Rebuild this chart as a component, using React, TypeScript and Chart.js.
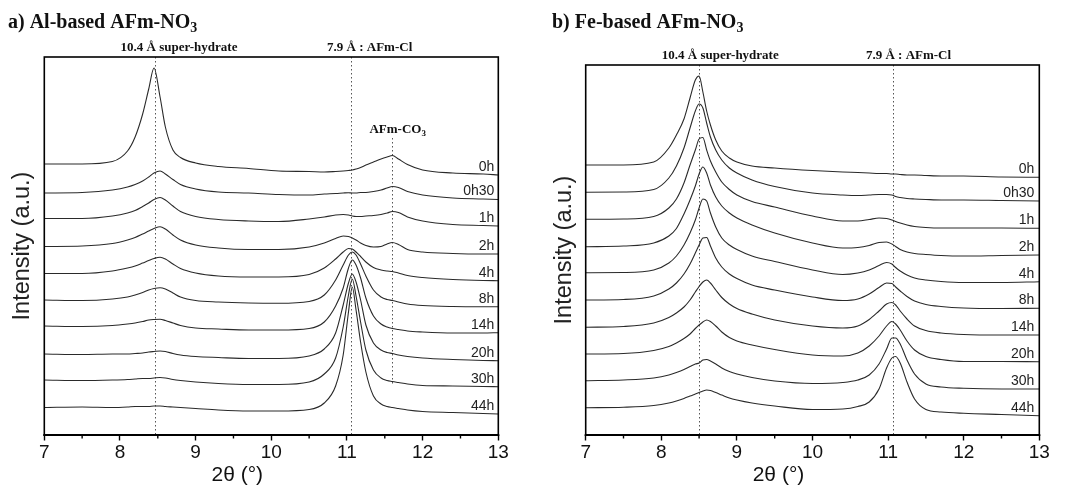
import React, { useEffect, useRef } from 'react';
import { Chart, registerables } from 'chart.js';

Chart.register(...registerables);

// ---------- shared ----------
const SAMPLE_LABELS = ['0h', '0h30', '1h', '2h', '4h', '8h', '14h', '20h', '30h', '44h'];
const MINOR_TICKS = [7.5, 8.5, 9.5, 10.5, 11.5, 12.5];

// ---------- a) Al-based AFm-NO3 ----------
const AL_TWO_THETA = [7.0, 7.5, 7.9, 8.1, 8.2, 8.3, 8.38, 8.45, 8.53, 8.6, 8.7, 8.8, 9.0, 9.3, 9.7, 10.1, 10.5, 10.7, 10.85, 10.95, 11.02, 11.07, 11.12, 11.18, 11.25, 11.35, 11.45, 11.53, 11.6, 11.68, 11.8, 12.0, 12.4, 12.8, 13.0];
const AL_0H = [271, 271, 273.5, 284, 298, 321, 346, 367, 338, 308, 285, 277.5, 272, 268.5, 266.5, 264, 263.5, 263, 263.5, 264, 264.5, 265, 266, 267.5, 270, 273, 276, 278, 279.5, 276, 270.5, 265, 262, 261, 260];
const AL_0H30 = [242, 242.5, 245, 248, 250.5, 254, 258, 262, 264, 261, 255.5, 250.5, 246, 243, 242, 240.5, 240, 241, 241.5, 242, 242.3, 242, 242, 242.5, 242.5, 243.5, 245, 247, 248.5, 247.5, 243.5, 240, 237, 236, 235.5];
const AL_1H = [216.5, 216.5, 219, 222, 224.5, 228.5, 232, 235.5, 237.5, 235, 229, 223.5, 218.5, 215.5, 214, 213.5, 216, 218, 220, 220.5, 220, 219, 218.5, 218.5, 219, 219.5, 220.5, 222, 223.5, 222.5, 218, 214, 210.5, 209.5, 209];
const AL_2H = [188.5, 189, 191.5, 195, 197.5, 201, 204, 206.5, 208.3, 206, 200, 195, 190, 187, 185.5, 185.5, 188, 192, 196.5, 199, 198.5, 197, 195, 192, 189.5, 188, 188.5, 191, 192.5, 190.5, 185.5, 183, 181.5, 181, 181];
const AL_4H = [161.5, 161.5, 164, 167, 169, 172, 174.5, 176.5, 177.7, 176, 171, 166.5, 162, 159, 158, 158, 160.5, 167, 176, 183, 186.5, 186, 183, 178.5, 173, 167.5, 165, 164, 163.5, 162, 159.5, 157.5, 155.5, 154.5, 154.3];
const AL_8H = [135, 134.5, 136, 138, 140, 142.5, 145, 146.5, 147.3, 146, 142, 138, 134.5, 133, 132, 131.7, 133.5, 140, 155, 170, 180, 183, 180, 171, 159, 145, 138, 135.5, 134.5, 133, 131, 129.5, 128.5, 128.3, 128.3];
const AL_14H = [109, 108.5, 109.5, 111, 112, 113.5, 115, 115.5, 115.7, 114.5, 112, 109.5, 107, 106, 105, 105, 106.5, 113, 129, 147, 167, 175, 170, 157, 137, 119, 111, 108, 106.5, 105.5, 104, 103, 102, 102, 102.3];
const AL_20H = [81, 80.5, 81, 81, 81.5, 82, 83, 83.5, 84, 83.5, 81.5, 80, 78.5, 77.5, 76.5, 76.5, 79, 86, 102, 130, 152, 161, 153, 135, 110, 92, 85, 82.5, 81.5, 80, 78.5, 77, 75.5, 74.5, 74.3];
const AL_30H = [55, 54.5, 55, 55.5, 56, 56.5, 56.5, 57, 57.5, 57, 55.5, 54.5, 53, 51.5, 50.5, 50.5, 53, 61, 77, 108, 140, 156, 139, 113, 85, 65, 57, 54.5, 53.5, 52.5, 51, 49.5, 49, 48.5, 48.3];
const AL_44H = [27.5, 28, 27.5, 28, 28.5, 28.5, 28.5, 29, 29, 28.5, 28, 27.5, 26.5, 25, 24, 24, 25.5, 32, 49, 80, 123, 148, 125, 93, 63, 39, 31, 28.5, 27.5, 26.5, 25, 23.5, 22.5, 21.5, 21];

// ---------- b) Fe-based AFm-NO3 ----------
const FE_TWO_THETA = [7.0, 7.5, 7.9, 8.1, 8.2, 8.3, 8.38, 8.45, 8.5, 8.55, 8.6, 8.65, 8.72, 8.8, 8.9, 9.0, 9.2, 9.5, 10.0, 10.4, 10.6, 10.75, 10.88, 10.98, 11.05, 11.1, 11.16, 11.25, 11.35, 11.5, 11.7, 12.0, 12.5, 13.0];
const FE_0H = [270, 270, 273, 287, 300, 316, 337, 355, 359, 343, 324, 310, 295, 284, 277, 273, 269, 267, 264.5, 263, 262.5, 262, 261.5, 261.5, 261, 261, 260.5, 260, 260, 259.5, 259, 259, 258, 257.7];
const FE_0H30 = [242.7, 243, 245.5, 257, 269, 287, 307, 324, 331, 327, 312, 298, 285, 275, 267, 262, 255, 248.5, 242, 240, 239.5, 240, 240.5, 240.5, 240, 238.5, 237.5, 236.5, 236, 235.5, 235, 235, 234.5, 234];
const FE_1H = [215.7, 216, 218.5, 227, 236, 252, 270, 285, 296, 297.5, 285, 274, 263, 253, 245.5, 240, 233.5, 228, 219, 214, 214, 215.5, 217, 216.5, 215, 213.5, 212, 210, 208.5, 207.5, 207, 207, 207, 206.7];
const FE_2H = [188.3, 189, 192, 199, 206.5, 221, 235, 249, 261, 268, 262, 250, 238, 229, 222, 217, 210, 202, 192, 187, 187.5, 189.5, 192.5, 193, 191, 188.5, 185.5, 183, 181.5, 180.5, 179.5, 179, 179.5, 180];
const FE_4H = [162.3, 162.5, 165, 172, 179, 190, 202, 215, 227, 236, 234, 222, 208, 197, 190, 185.5, 179, 173.5, 165, 160.5, 162, 165, 169.5, 172.5, 171, 167.5, 164, 160, 157, 155, 153.5, 152.5, 152.5, 153.3];
const FE_8H = [135, 135.5, 139, 146, 152, 161, 171, 182, 190, 197, 197.5, 189, 177, 168, 161, 156.5, 150, 145, 138, 134.5, 136, 141, 147.5, 152, 151.5, 148, 144, 138.5, 134, 130.5, 128.5, 127, 126.5, 126.7];
const FE_14H = [107.7, 108.5, 112, 117.5, 122, 128, 135, 143, 148.5, 153, 155, 152, 145, 137.5, 131, 126.5, 121, 115, 109, 107, 109, 115.5, 124, 131, 132.5, 130, 124, 116, 109, 104.5, 102, 100.5, 100, 100];
const FE_20H = [81, 81.5, 84.5, 88.5, 92, 96.5, 101, 106.5, 110, 113, 115, 113.5, 109, 103, 97.5, 94, 90, 85.5, 80, 79, 82, 89, 99, 109, 113.5, 111, 105, 94, 85, 78.5, 75.5, 73.5, 73.5, 73.3];
const FE_30H = [54.3, 55, 57, 60, 62.5, 65.5, 68.5, 71, 72, 75, 75.5, 74, 71, 67, 63.5, 61, 57.5, 54, 51.5, 52.5, 55, 60, 71, 86, 97, 97, 91, 75, 61, 51, 48, 46.7, 46, 46];
const FE_44H = [27.3, 27.8, 29.5, 32, 34, 36.5, 39, 41, 42.5, 44, 45, 44.5, 42.5, 40, 37, 35, 32, 29, 25.5, 26, 28.5, 33, 46, 67, 77, 78.5, 72, 53, 36, 25.5, 23, 21.7, 20.5, 19.3];

// ---------- styling / layout ----------
const SANS = "'Liberation Sans', Arial, sans-serif";
const SERIF = "'Liberation Serif', 'Times New Roman', serif";
const CANVAS_W = 535;
const CANVAS_H = 493;

type Part = { t: string; sub?: boolean };
type RefLine = { x: number; from?: number; to?: number };
type RefLabel = { parts: Part[]; x: number; y?: number };

type PanelDef = {
  left: number;
  padding: { top: number; right: number; left: number };
  yAxisWidth: number;
  yMax: number;
  twoTheta: number[];
  series: number[][];
  title: Part[];
  titleX: number;
  refLines: RefLine[];
  refLabels: RefLabel[];
  labelInset: number;
};

const PANELS: PanelDef[] = [
  {
    left: 0,
    padding: { top: 57, right: CANVAS_W - 498.3, left: 0 },
    yAxisWidth: 44.3,
    yMax: 378,
    twoTheta: AL_TWO_THETA,
    series: [AL_0H, AL_0H30, AL_1H, AL_2H, AL_4H, AL_8H, AL_14H, AL_20H, AL_30H, AL_44H],
    title: [{ t: 'a) Al-based AFm-NO' }, { t: '3', sub: true }],
    titleX: 8,
    refLines: [{ x: 8.46 }, { x: 11.05 }, { x: 11.6, from: 50, to: 297 }],
    refLabels: [
      { parts: [{ t: '10.4 Å super-hydrate' }], x: 8.78 },
      { parts: [{ t: '7.9 Å : AFm-Cl' }], x: 11.3 },
      { parts: [{ t: 'AFm-CO' }, { t: '3', sub: true }], x: 11.67, y: 302 },
    ],
    labelInset: 4,
  },
  {
    left: CANVAS_W,
    padding: { top: 65, right: CANVAS_W - (1039.3 - CANVAS_W), left: 7 },
    yAxisWidth: 43.7,
    yMax: 370,
    twoTheta: FE_TWO_THETA,
    series: [FE_0H, FE_0H30, FE_1H, FE_2H, FE_4H, FE_8H, FE_14H, FE_20H, FE_30H, FE_44H],
    title: [{ t: 'b) Fe-based AFm-NO' }, { t: '3', sub: true }],
    titleX: 552 - CANVAS_W,
    refLines: [{ x: 8.5 }, { x: 11.07 }],
    refLabels: [
      { parts: [{ t: '10.4 Å super-hydrate' }], x: 8.78 },
      { parts: [{ t: '7.9 Å : AFm-Cl' }], x: 11.27 },
    ],
    labelInset: 5,
  },
];

function drawParts(
  ctx: CanvasRenderingContext2D,
  parts: Part[],
  x: number,
  baseline: number,
  size: number,
  align: 'left' | 'center'
) {
  const subSize = Math.round(size * 0.68);
  const widths = parts.map((p) => {
    ctx.font = `bold ${p.sub ? subSize : size}px ${SERIF}`;
    return ctx.measureText(p.t).width;
  });
  const total = widths.reduce((a, b) => a + b, 0);
  let cx = align === 'center' ? x - total / 2 : x;
  ctx.textAlign = 'left';
  ctx.textBaseline = 'alphabetic';
  parts.forEach((p, i) => {
    ctx.font = `bold ${p.sub ? subSize : size}px ${SERIF}`;
    ctx.fillText(p.t, cx, baseline + (p.sub ? size * 0.2 : 0));
    cx += widths[i];
  });
}

function makeOverlay(panel: PanelDef) {
  return {
    id: 'overlay',
    beforeDatasetsDraw(chart: any) {
      const { ctx, chartArea: a, scales } = chart;
      const xs = scales.x;
      const ys = scales.y;
      ctx.save();
      ctx.strokeStyle = '#555';
      ctx.lineWidth = 1;
      ctx.setLineDash([1.5, 2.5]);
      for (const r of panel.refLines) {
        const px = Math.round(xs.getPixelForValue(r.x)) + 0.5;
        const y0 = r.to !== undefined ? ys.getPixelForValue(r.to) : a.top;
        const y1 = r.from !== undefined ? ys.getPixelForValue(r.from) : a.bottom;
        ctx.beginPath();
        ctx.moveTo(px, y0);
        ctx.lineTo(px, y1);
        ctx.stroke();
      }
      ctx.restore();
    },
    afterDraw(chart: any) {
      const { ctx, chartArea: a, scales } = chart;
      const xs = scales.x;
      const ys = scales.y;
      ctx.save();
      ctx.setLineDash([]);
      // frame
      ctx.strokeStyle = '#000';
      ctx.lineWidth = 1.6;
      ctx.strokeRect(a.left, a.top, a.right - a.left, a.bottom - a.top);
      ctx.lineWidth = 2;
      ctx.beginPath();
      ctx.moveTo(a.left - 1, a.bottom);
      ctx.lineTo(a.right + 1, a.bottom);
      ctx.stroke();
      // minor ticks
      ctx.lineWidth = 1.4;
      for (const v of MINOR_TICKS) {
        const px = xs.getPixelForValue(v);
        ctx.beginPath();
        ctx.moveTo(px, a.bottom);
        ctx.lineTo(px, a.bottom + 3.5);
        ctx.stroke();
      }
      // reference labels
      ctx.fillStyle = '#111';
      for (const l of panel.refLabels) {
        const px = xs.getPixelForValue(l.x);
        const base = l.y !== undefined ? ys.getPixelForValue(l.y) : a.top - 6;
        drawParts(ctx, l.parts, px, base, 13, 'center');
      }
      // sample labels at curve ends
      ctx.font = `14px ${SANS}`;
      ctx.fillStyle = '#222';
      ctx.textAlign = 'right';
      ctx.textBaseline = 'middle';
      panel.series.forEach((vals, i) => {
        const yy = ys.getPixelForValue(vals[vals.length - 1]) - 8;
        ctx.fillText(SAMPLE_LABELS[i], a.right - panel.labelInset, yy);
      });
      // x axis title
      ctx.font = `21px ${SANS}`;
      ctx.fillStyle = '#111';
      ctx.textAlign = 'center';
      ctx.textBaseline = 'middle';
      ctx.fillText('2θ (°)', xs.getPixelForValue(9.55), a.bottom + 40);
      // panel title
      ctx.fillStyle = '#111';
      drawParts(ctx, panel.title, panel.titleX, 27.5, 20, 'left');
      ctx.restore();
    },
  };
}

function Panel({ panel }: { panel: PanelDef }) {
  const ref = useRef<HTMLCanvasElement>(null);
  useEffect(() => {
    const canvas = ref.current;
    if (!canvas) return;
    const chart = new Chart(canvas, {
      type: 'line',
      data: {
        datasets: panel.series.map((vals, i) => ({
          label: SAMPLE_LABELS[i],
          data: panel.twoTheta.map((x, j) => ({ x, y: vals[j] })),
          borderColor: '#2a2a2a',
          borderWidth: 1.1,
          pointRadius: 0,
          fill: false,
          cubicInterpolationMode: 'monotone' as const,
        })),
      },
      options: {
        responsive: false,
        animation: false,
        devicePixelRatio: 1,
        layout: { padding: { top: panel.padding.top, right: panel.padding.right, left: panel.padding.left, bottom: 0 } },
        plugins: { legend: { display: false }, tooltip: { enabled: false } },
        scales: {
          x: {
            type: 'linear',
            min: 7,
            max: 13,
            afterFit: (s: any) => {
              s.height = 58;
            },
            ticks: {
              stepSize: 1,
              autoSkip: false,
              maxRotation: 0,
              padding: 1,
              color: '#111',
              font: { family: SANS, size: 19 },
            },
            grid: {
              display: true,
              drawOnChartArea: false,
              drawTicks: true,
              tickLength: 5.5,
              tickWidth: 1.4,
              tickColor: '#000',
            },
            border: { display: false },
          },
          y: {
            type: 'linear',
            min: 0,
            max: panel.yMax,
            afterFit: (s: any) => {
              s.width = panel.yAxisWidth;
            },
            ticks: { display: false },
            grid: { display: false, drawTicks: false },
            border: { display: false },
            title: {
              display: true,
              text: 'Intensity (a.u.)',
              color: '#222',
              font: { family: SANS, size: 23.5 },
              padding: { top: 8, bottom: 0 },
            },
          },
        },
      },
      plugins: [makeOverlay(panel)],
    } as any);
    return () => chart.destroy();
  }, [panel]);
  return (
    <canvas
      ref={ref}
      width={CANVAS_W}
      height={CANVAS_H}
      style={{ position: 'absolute', left: panel.left, top: 0, width: CANVAS_W, height: CANVAS_H }}
    />
  );
}

export default function App() {
  return (
    <div style={{ position: 'absolute', left: 0, top: 0, width: 1070, height: 493, background: '#fff', overflow: 'hidden' }}>
      {PANELS.map((p, i) => (
        <Panel key={i} panel={p} />
      ))}
    </div>
  );
}
